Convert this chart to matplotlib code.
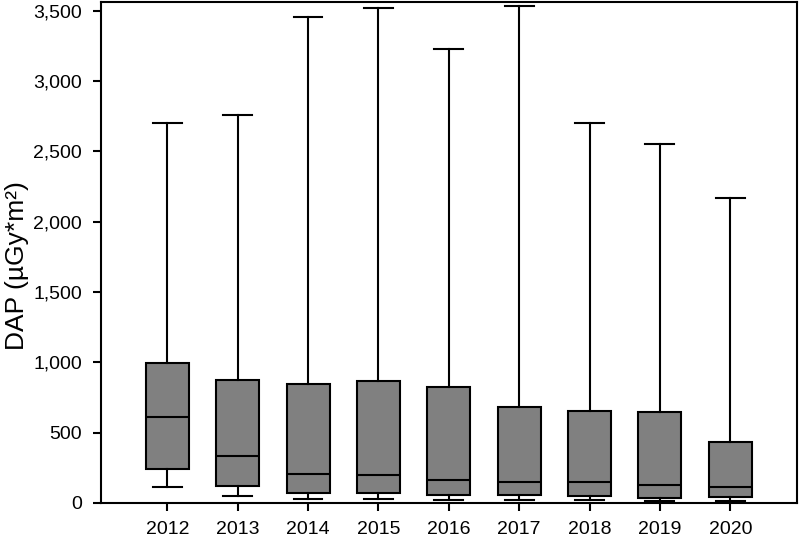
import matplotlib.pyplot as plt
from matplotlib.ticker import FuncFormatter

plt.rcParams['font.family'] = ['Liberation Sans', 'DejaVu Sans']

years = ['2012', '2013', '2014', '2015', '2016', '2017', '2018', '2019', '2020']
whislo = [116, 52, 28, 28, 21, 21, 17, 14, 14]
q1 = [239, 121, 73, 73, 55, 55, 52, 38, 43]
med = [613, 334, 204, 199, 163, 151, 151, 130, 114]
q3 = [992, 873, 843, 866, 826, 679, 655, 644, 433]
whishi = [2700, 2755, 3458, 3522, 3225, 3536, 2702, 2552, 2165]

stats = []
for i in range(len(years)):
    stats.append({'label': years[i], 'whislo': whislo[i], 'q1': q1[i], 'med': med[i],
                  'q3': q3[i], 'whishi': whishi[i], 'fliers': []})

fig = plt.figure(figsize=(8, 5.39), dpi=100)
ax = fig.add_axes([0.126, 0.067, 0.87, 0.929])

ax.bxp(stats, widths=0.61, patch_artist=True, showfliers=False,
       boxprops=dict(facecolor='#808080', edgecolor='black', linewidth=1.5),
       medianprops=dict(color='black', linewidth=1.5),
       whiskerprops=dict(color='black', linewidth=1.5),
       capprops=dict(color='black', linewidth=1.5),
       capwidths=0.41)

ax.set_xlim(0.055, 9.945)
ax.set_ylim(0, 3560)
ax.set_yticks(range(0, 3501, 500))
ax.yaxis.set_major_formatter(FuncFormatter(lambda v, p: f'{int(v):,}'))
ax.set_ylabel('DAP (µGy*m²)', fontsize=19)
ax.yaxis.set_label_coords(-0.103, 0.473)
ax.tick_params(axis='both', direction='out', length=6, width=1.5, labelsize=14, pad=7.5)
ax.tick_params(axis='x', pad=7)
for s in ax.spines.values():
    s.set_linewidth(1.5)

plt.savefig('out.png', dpi=100)
